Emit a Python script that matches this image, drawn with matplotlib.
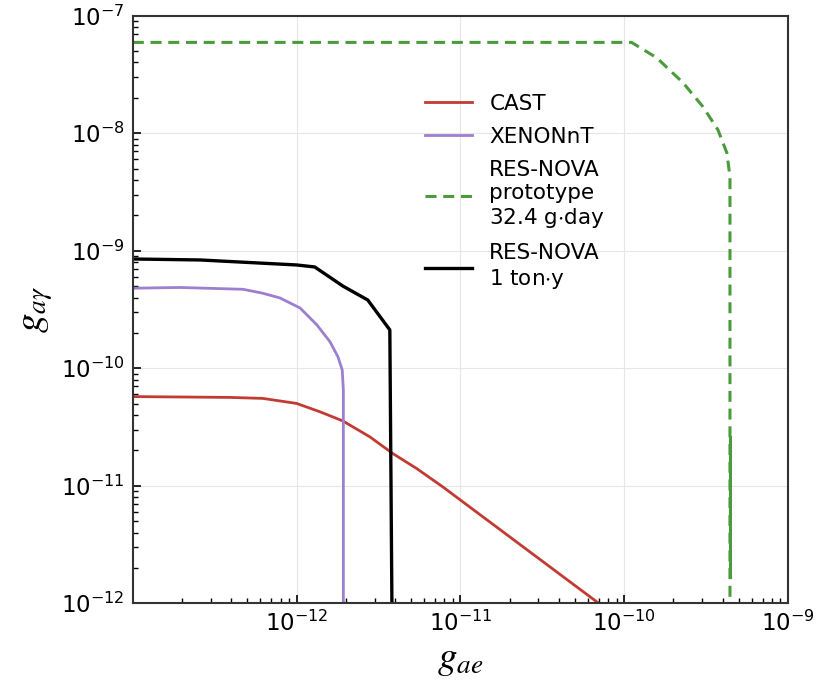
import numpy as np
import matplotlib.pyplot as plt

plt.rcParams['mathtext.fontset'] = 'stix'

# CAST
cast_gae = [1e-13, 3.91e-13, 6.22e-13, 1.0e-12, 1.39e-12, 1.91e-12, 2.80e-12,
            3.87e-12, 5.42e-12, 7.81e-12, 7.0e-11]
cast_gag = [5.74e-11, 5.65e-11, 5.54e-11, 5.02e-11, 4.26e-11, 3.57e-11, 2.61e-11,
            1.88e-11, 1.40e-11, 9.79e-12, 1.0e-12]

# XENONnT
xenon_gae = [1e-13, 1.94e-13, 4.70e-13, 6.13e-13, 7.90e-13, 1.05e-12, 1.33e-12,
             1.60e-12, 1.79e-12, 1.90e-12, 1.93e-12, 1.93e-12]
xenon_gag = [4.80e-10, 4.87e-10, 4.70e-10, 4.37e-10, 3.97e-10, 3.26e-10, 2.34e-10,
             1.68e-10, 1.25e-10, 9.66e-11, 6.52e-11, 1e-13]

# RES-NOVA prototype 32.4 g*day
proto_gae = [1e-13, 1.11e-10, 1.58e-10, 2.29e-10, 3.03e-10, 3.74e-10, 4.24e-10, 4.43e-10, 4.43e-10]
proto_gag = [5.93e-8, 5.93e-8, 4.39e-8, 2.69e-8, 1.68e-8, 1.07e-8, 6.81e-9, 4.26e-9, 1e-13]
proto_solid_gae = [4.43e-10, 4.43e-10]
proto_solid_gag = [2.59e-11, 1.66e-12]

# RES-NOVA 1 ton*y
ton_gae = [1e-13, 2.57e-13, 1.0e-12, 1.29e-12, 1.92e-12, 2.72e-12, 3.71e-12, 3.82e-12, 3.82e-12]
ton_gag = [8.51e-10, 8.35e-10, 7.57e-10, 7.28e-10, 5.0e-10, 3.81e-10, 2.12e-10, 1e-12, 1e-13]

c_cast = '#c23b33'
c_xenon = '#9d7fcf'
c_proto = '#4b9b3c'
c_ton = 'black'

fig = plt.figure(figsize=(8.25, 6.84), dpi=100)
ax = fig.add_axes([0.161, 0.118, 0.794, 0.859])

ax.plot(cast_gae, cast_gag, color=c_cast, lw=2.0, label='CAST')
ax.plot(xenon_gae, xenon_gag, color=c_xenon, lw=2.0, label='XENONnT')
ax.plot(proto_gae, proto_gag, color=c_proto, lw=2.2, linestyle=(0, (3.6, 2.2)),
        label='RES-NOVA\nprototype\n32.4 g$\\cdot$day')
ax.plot(proto_solid_gae, proto_solid_gag, color=c_proto, lw=2.2)
ax.plot(ton_gae, ton_gag, color=c_ton, lw=2.4, label='RES-NOVA\n1 ton$\\cdot$y')

ax.set_xscale('log')
ax.set_yscale('log')
ax.set_xlim(1e-13, 1e-9)
ax.set_ylim(1e-12, 1e-7)

ax.set_xticks([1e-12, 1e-11, 1e-10, 1e-9])
ax.set_yticks([1e-12, 1e-11, 1e-10, 1e-9, 1e-8, 1e-7])
ax.tick_params(which='both', direction='in', labelsize=16.5, top=False, right=False)
ax.tick_params(which='major', length=6, width=1.2)
ax.tick_params(axis='x', which='major', pad=5)
ax.tick_params(axis='y', which='major', pad=6)
ax.tick_params(which='minor', length=3.5, width=1.0)
for s in ax.spines.values():
    s.set_linewidth(1.5)
    s.set_color('#333333')

ax.grid(True, which='major', color='#e6e6e6', linewidth=0.8)

ax.set_xlabel(r'$g_{ae}$', fontsize=28, labelpad=3)
ax.set_ylabel(r'$g_{a\gamma}$', fontsize=28, labelpad=4)

ax.legend(loc='upper left', bbox_to_anchor=(0.416, 0.9), frameon=False,
          fontsize=15.5, handlelength=2.2, handletextpad=0.8, labelspacing=0.6)

plt.savefig('out.png', dpi=100)
